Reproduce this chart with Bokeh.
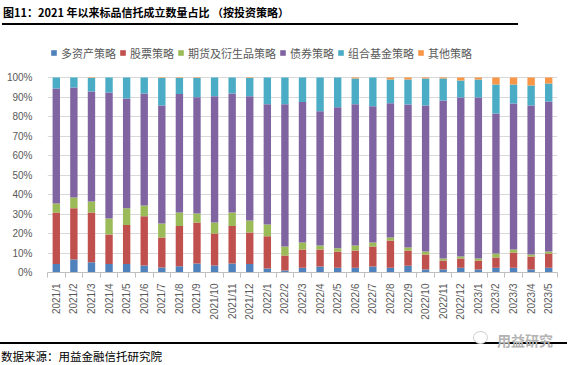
import math
from bokeh.plotting import figure
from bokeh.models import (Range1d, FixedTicker, PrintfTickFormatter, Legend, LegendItem,
                          ColumnDataSource, Div)
from bokeh.layouts import column
from bokeh.embed import file_html
from bokeh.resources import INLINE

months = ["2021/1", "2021/2", "2021/3", "2021/4", "2021/5", "2021/6", "2021/7", "2021/8",
          "2021/9", "2021/10", "2021/11", "2021/12", "2022/1", "2022/2", "2022/3", "2022/4",
          "2022/5", "2022/6", "2022/7", "2022/8", "2022/9", "2022/10", "2022/11", "2022/12",
          "2023/1", "2023/2", "2023/3", "2023/4", "2023/5"]

multi_asset = [4.3, 6.7, 5.3, 4.3, 4.3, 3.6, 2.6, 3.2, 4.6, 3.6, 4.6, 4.3, 2.1, 1.0, 2.4,
               3.1, 2.4, 2.4, 3.1, 2.4, 3.4, 1.5, 1.5, 2.4, 1.5, 2.4, 2.4, 1.5, 2.4]
stock = [26.5, 26.3, 25.5, 15.2, 20.0, 25.3, 15.3, 20.6, 21.0, 16.4, 19.2, 16.2, 16.5, 7.7, 9.4,
         8.7, 8.4, 8.9, 10.2, 14.0, 7.9, 7.7, 4.7, 4.8, 4.7, 5.3, 7.9, 6.7, 7.3]
futures = [4.6, 5.5, 5.6, 8.2, 8.7, 5.5, 7.2, 7.0, 4.7, 5.6, 7.0, 6.2, 6.0, 4.6, 3.6,
           2.0, 1.7, 2.5, 2.1, 1.5, 1.5, 1.6, 1.0, 1.0, 1.0, 2.0, 1.5, 1.0, 1.1]
bond = [59.0, 56.4, 56.4, 64.6, 56.2, 57.4, 60.5, 60.7, 59.6, 64.8, 61.0, 63.7, 61.7, 73.0, 72.0,
        68.9, 72.3, 72.5, 69.9, 68.9, 73.4, 74.8, 81.0, 81.5, 82.5, 71.8, 74.9, 76.4, 76.9]
fof = [5.6, 5.1, 6.9, 7.7, 10.8, 8.2, 14.1, 8.2, 9.8, 9.6, 8.2, 9.3, 13.7, 13.7, 12.6,
       17.3, 15.2, 13.2, 14.7, 12.2, 12.8, 13.9, 11.3, 8.8, 9.3, 14.9, 9.7, 10.3, 9.2]
other = [0.0, 0.0, 0.3, 0.0, 0.0, 0.0, 0.3, 0.3, 0.3, 0.0, 0.0, 0.3, 0.0, 0.0, 0.0,
         0.0, 0.0, 0.5, 0.0, 1.0, 1.0, 0.5, 0.5, 1.5, 1.0, 3.6, 3.6, 4.1, 3.1]

series_names = ["多资产策略", "股票策略", "期货及衍生品策略", "债券策略", "组合基金策略", "其他策略"]
series_keys = ["multi_asset", "stock", "futures", "bond", "fof", "other"]
colors = ["#4F81BD", "#C0504D", "#9BBB59", "#8064A2", "#4BACC6", "#F79646"]
y_ticks = [0, 10, 20, 30, 40, 50, 60, 70, 80, 90, 100]

title_text = "图11：2021 年以来标品信托成立数量占比 （按投资策略）"
source_text = "数据来源：用益金融信托研究院"
watermark_text = "用益研究"

CJK = "'Noto Sans CJK SC', sans-serif"

# frame geometry: 100% line sits 195px above the axis, frame extends higher to hold the legend
FRAME_H = 232
PLOT_H = 195

idx = list(range(len(months)))
source = ColumnDataSource(dict(x=idx, multi_asset=multi_asset, stock=stock, futures=futures,
                               bond=bond, fof=fof, other=other))

p = figure(width=572, height=304, output_backend="svg", toolbar_location=None,
           x_range=Range1d(-0.5, len(months) - 0.5),
           y_range=Range1d(0, 100 * FRAME_H / PLOT_H),
           min_border_left=47, min_border_right=15, min_border_top=14, min_border_bottom=58)
p.outline_line_color = None
p.background_fill_color = "white"
p.border_fill_color = "white"

renderers = p.vbar_stack(series_keys, x="x", width=0.42, color=colors, line_color=None,
                         source=source)

# x axis
p.xaxis.ticker = FixedTicker(ticks=idx, minor_ticks=[i - 0.5 for i in range(len(months) + 1)])
p.xaxis.major_label_overrides = {i: m for i, m in enumerate(months)}
p.xaxis.major_label_orientation = math.pi / 2
p.xaxis.major_tick_in = 0
p.xaxis.major_tick_out = 0
p.xaxis.minor_tick_in = 0
p.xaxis.minor_tick_out = 5
p.xaxis.minor_tick_line_color = "#bfbfbf"
p.xaxis.axis_line_color = "#bfbfbf"
p.xaxis.major_label_standoff = 6
p.xaxis.major_label_text_font = "Liberation Sans"
p.xaxis.major_label_text_font_size = "10px"
p.xaxis.major_label_text_color = "#595959"

# y axis
p.yaxis.ticker = FixedTicker(ticks=y_ticks)
p.yaxis.formatter = PrintfTickFormatter(format="%d%%")
p.yaxis.axis_line_color = None
p.yaxis.major_tick_line_color = None
p.yaxis.minor_tick_line_color = None
p.yaxis.major_label_standoff = 9
p.yaxis.major_label_text_font = "Liberation Sans"
p.yaxis.major_label_text_font_size = "10px"
p.yaxis.major_label_text_color = "#595959"

p.xgrid.visible = False
p.ygrid.grid_line_color = "#d9d9d9"

legend = Legend(items=[LegendItem(label=n, renderers=[r]) for n, r in zip(series_names, renderers)],
                orientation="horizontal", location=(3, 211.5),
                glyph_width=7, glyph_height=7, label_height=7, label_standoff=4, spacing=3,
                padding=0, margin=0, border_line_color=None, background_fill_alpha=0,
                label_text_font="Noto Sans CJK SC", label_text_font_size="11px",
                label_text_color="#595959")
p.add_layout(legend, "center")

title_div = Div(
    text=(f'<div style="position:relative;width:572px;height:26px;">'
          f'<div style="position:absolute;left:3px;top:5px;line-height:15px;font-family:{CJK};'
          f'font-weight:bold;font-size:11px;color:#000;white-space:nowrap;">{title_text}</div>'
          f'<div style="position:absolute;left:2px;top:23px;width:516px;height:2px;background:#000;"></div>'
          f'</div>'),
    width=572, height=26, margin=0)

footer_div = Div(
    text=(f'<div style="position:relative;width:572px;height:35px;">'
          f'<div style="position:absolute;left:0;top:12px;width:567px;height:2px;background:#000;"></div>'
          f'<div style="position:absolute;left:473px;top:1px;width:15px;height:13px;border:1px solid #d0d0d0;'
          f'border-radius:50%;background:#fff;"></div>'
          f'<div style="position:absolute;left:497px;top:2px;font-family:{CJK};font-weight:bold;'
          f'font-size:14px;line-height:16px;color:#b3b3b3;white-space:nowrap;">{watermark_text}</div>'
          f'<div style="position:absolute;left:1px;top:19px;font-family:{CJK};font-size:11.5px;'
          f'line-height:14px;color:#000;white-space:nowrap;">{source_text}</div>'
          f'</div>'),
    width=572, height=35, margin=0)

layout = column(title_div, p, footer_div, spacing=0)

open("out.html", "w").write(file_html(layout, INLINE))
